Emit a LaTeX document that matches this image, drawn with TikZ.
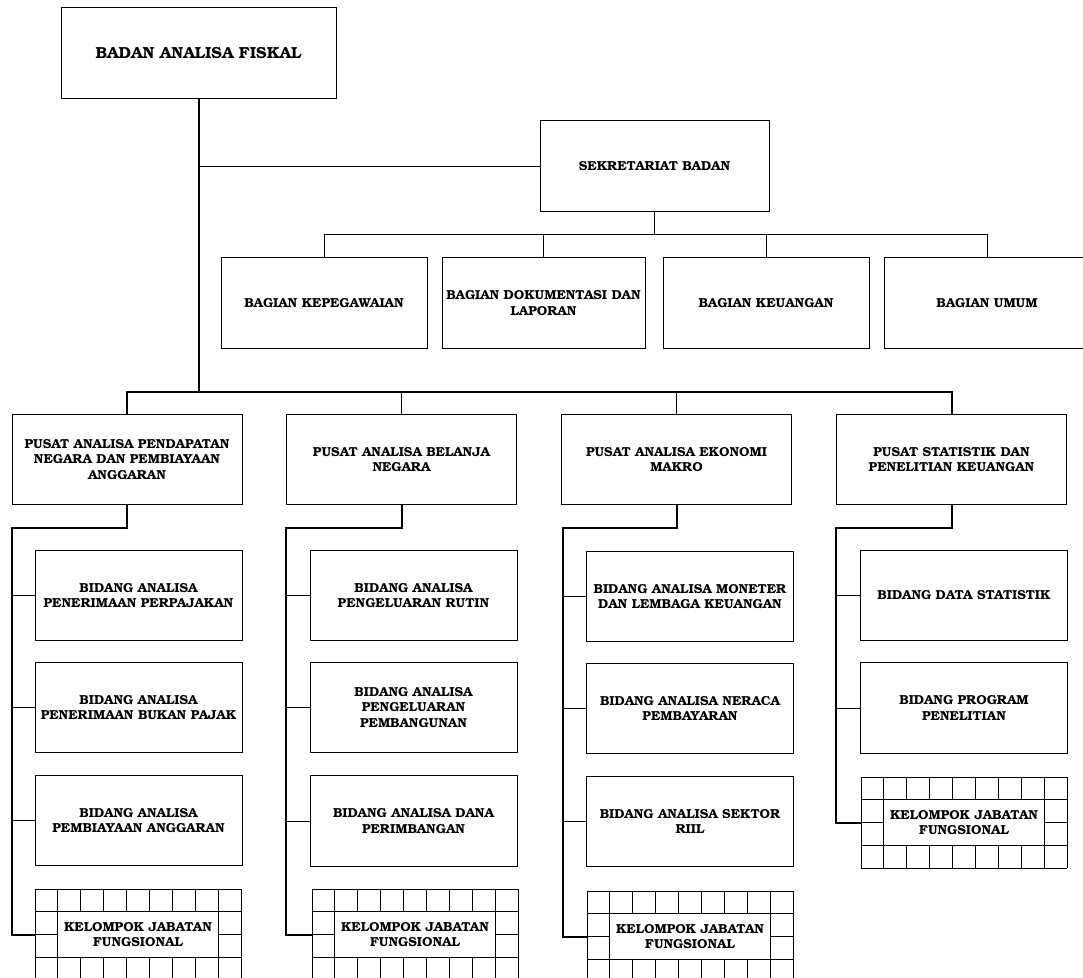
\documentclass[tikz,border=0pt]{standalone}
\usepackage[T1]{fontenc}
\usepackage{bookman}
\usepackage{tikz}
\newcommand{\orgfont}{\fontsize{13}{15.5}\selectfont\bfseries}
\tikzset{orgbox/.style={draw, line width=1pt, minimum width=206pt, minimum height=90.5pt, align=center, font=\orgfont, inner sep=1pt},
  bigline/.style={line width=2pt},
  thinline/.style={line width=1pt}}
% grid box for the functional groups: #1 name, #2 top left corner
\newcommand{\kjfgrid}[2]{\begin{scope}[shift={#2}]
  \foreach \c in {0,...,9} \draw[thinline] (\c*22.9,0) -- (\c*22.9,91);
  \foreach \r in {0,...,4} \draw[thinline] (0,\r*22.75) -- (206.1,\r*22.75);
  \node[draw, fill=white, line width=1pt, minimum width=160.3pt, minimum height=45.5pt, align=center, font=\orgfont, inner sep=1pt] (#1) at (103,45.5) {KELOMPOK JABATAN\\FUNGSIONAL};
  \coordinate (#1-in) at (0,45.5);
\end{scope}}

\begin{document}
\begin{tikzpicture}[x=1pt, y=-1pt]
\useasboundingbox (0,0) rectangle (1083,977);
% top levels
\node[orgbox, minimum width=275pt, font=\fontsize{16}{19}\selectfont\bfseries] (badan) at (198.5,53) {BADAN ANALISA FISKAL};
\node[orgbox, minimum width=229pt] (sek) at (654.5,166) {SEKRETARIAT BADAN};
\node[orgbox] (bag1) at (324,303) {BAGIAN KEPEGAWAIAN};
\node[orgbox, minimum width=203pt] (bag2) at (543.5,303) {BAGIAN DOKUMENTASI DAN\\LAPORAN};
\node[orgbox] (bag3) at (766,303) {BAGIAN KEUANGAN};
\node[orgbox] (bag4) at (987,303) {BAGIAN UMUM};
\node[orgbox, minimum width=230pt] (pus1) at (127,459.5) {PUSAT ANALISA PENDAPATAN\\NEGARA DAN PEMBIAYAAN\\ANGGARAN};
\node[orgbox, minimum width=230pt] (pus2) at (401.5,459.5) {PUSAT ANALISA BELANJA\\NEGARA};
\node[orgbox, minimum width=230pt] (pus3) at (676.5,459.5) {PUSAT ANALISA EKONOMI\\MAKRO};
\node[orgbox, minimum width=230pt] (pus4) at (951.5,459.5) {PUSAT STATISTIK DAN\\PENELITIAN KEUANGAN};
% bidang, column 1
\node[orgbox, minimum width=207pt] (bid11) at (138.5,595.5) {BIDANG ANALISA\\PENERIMAAN PERPAJAKAN};
\node[orgbox, minimum width=207pt] (bid12) at (138.5,707.5) {BIDANG ANALISA\\PENERIMAAN BUKAN PAJAK};
\node[orgbox, minimum width=207pt] (bid13) at (138.5,820.5) {BIDANG ANALISA\\PEMBIAYAAN ANGGARAN};
\kjfgrid{kjf1}{(35,889)}
% bidang, column 2
\node[orgbox, minimum width=207pt] (bid21) at (413.5,595.5) {BIDANG ANALISA\\PENGELUARAN RUTIN};
\node[orgbox, minimum width=207pt] (bid22) at (413.5,707.5) {BIDANG ANALISA\\PENGELUARAN\\PEMBANGUNAN};
\node[orgbox, minimum width=207pt] (bid23) at (413.5,821) {BIDANG ANALISA DANA\\PERIMBANGAN};
\kjfgrid{kjf2}{(312,889)}
% bidang, column 3
\node[orgbox, minimum width=207pt] (bid31) at (690,596.5) {BIDANG ANALISA MONETER\\DAN LEMBAGA KEUANGAN};
\node[orgbox, minimum width=207pt] (bid32) at (690,708.5) {BIDANG ANALISA NERACA\\PEMBAYARAN};
\node[orgbox, minimum width=207pt] (bid33) at (690,821.5) {BIDANG ANALISA SEKTOR\\RIIL};
\kjfgrid{kjf3}{(587,891)}
% bidang, column 4
\node[orgbox, minimum width=207pt] (bid41) at (964,595.5) {BIDANG DATA STATISTIK};
\node[orgbox, minimum width=207pt] (bid42) at (964,708) {BIDANG PROGRAM\\PENELITIAN};
\kjfgrid{kjf4}{(861,777)}
% connectors
\coordinate (bus1) at (0,234);
\coordinate (bus2) at (0,392);
\coordinate (rail1) at (pus1.west);
\coordinate (rail2) at (pus2.west);
\coordinate (rail3) at ([xshift=2pt]pus3.west);
\coordinate (rail4) at (pus4.west);
\draw[bigline] (badan.south) -- (badan.south |- bus2);
\draw[thinline] (badan.south |- sek.west) -- (sek.west);
\draw[thinline] (sek.south) -- (sek.south |- bus1);
\draw[thinline] (bag1.north) |- (bag4.north |- bus1) -- (bag4.north);
\draw[thinline] (bag2.north) -- (bag2.north |- bus1);
\draw[thinline] (bag3.north) -- (bag3.north |- bus1);
\draw[bigline] (pus1.north) |- (pus4.north |- bus2) -- (pus4.north);
\draw[thinline] (pus2.north) -- (pus2.north |- bus2);
\draw[thinline] (pus3.north) -- (pus3.north |- bus2);
% column rails
\draw[bigline] (pus1.south) -- ++(0,23) -| (kjf1-in -| rail1) -- (kjf1-in);
\draw[bigline] (pus2.south) -- ++(0,23) -| (kjf2-in -| rail2) -- (kjf2-in);
\draw[bigline] (pus3.south) -- ++(0,23) -| (kjf3-in -| rail3) -- (kjf3-in);
\draw[bigline] (pus4.south) -- ++(0,23) -| (kjf4-in -| rail4) -- (kjf4-in);
\draw[thinline] (bid11.west -| rail1) -- (bid11.west);
\draw[thinline] (bid12.west -| rail1) -- (bid12.west);
\draw[thinline] (bid13.west -| rail1) -- (bid13.west);
\draw[thinline] (bid21.west -| rail2) -- (bid21.west);
\draw[thinline] (bid22.west -| rail2) -- (bid22.west);
\draw[thinline] (bid23.west -| rail2) -- (bid23.west);
\draw[thinline] (bid31.west -| rail3) -- (bid31.west);
\draw[thinline] (bid32.west -| rail3) -- (bid32.west);
\draw[thinline] (bid33.west -| rail3) -- (bid33.west);
\draw[thinline] (bid41.west -| rail4) -- (bid41.west);
\draw[thinline] (bid42.west -| rail4) -- (bid42.west);
\end{tikzpicture}
\end{document}
